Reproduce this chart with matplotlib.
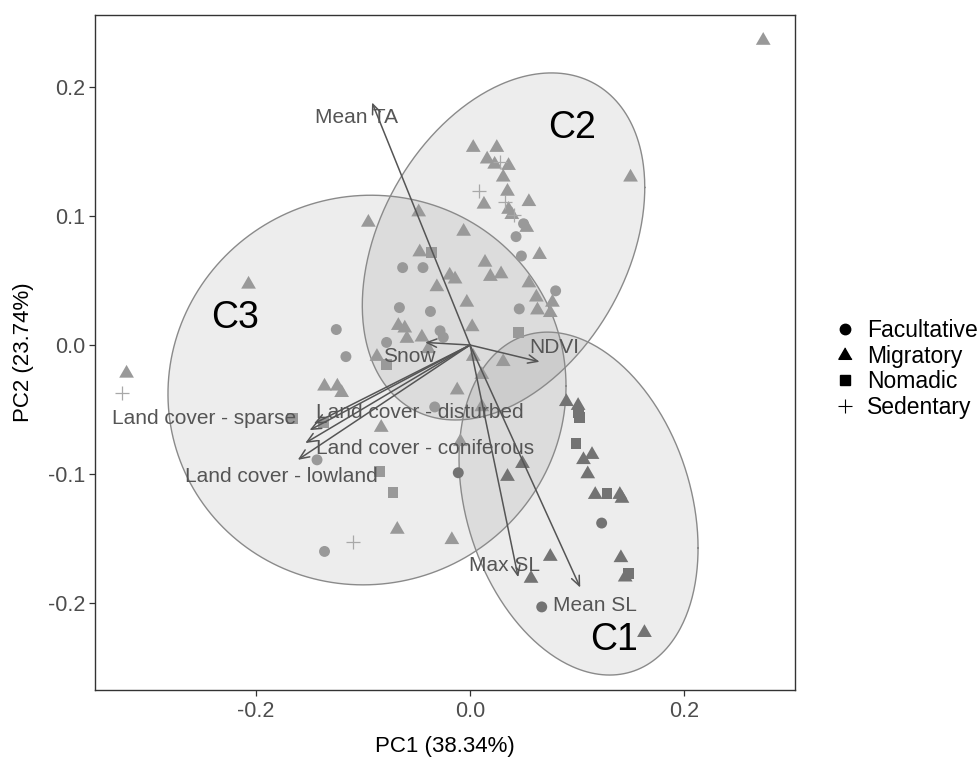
import numpy as np
import matplotlib
matplotlib.use('Agg')
import matplotlib.pyplot as plt
from matplotlib.lines import Line2D

plt.rcParams['font.family'] = ['Liberation Sans', 'DejaVu Sans']

# ---------------- data ----------------
types = ['Facultative', 'Migratory', 'Nomadic', 'Sedentary']

# Facultative (circles): x, y, cluster
fac_x = [-0.063, -0.044, -0.066, -0.037, -0.125, -0.028, -0.025, -0.078, -0.116,
         0.050, 0.043, 0.048, 0.080, 0.046, -0.033, -0.143, -0.136,
         -0.011, 0.123, 0.067]
fac_y = [0.060, 0.060, 0.029, 0.026, 0.012, 0.011, 0.006, 0.002, -0.009,
         0.094, 0.084, 0.069, 0.042, 0.028, -0.048, -0.089, -0.160,
         -0.099, -0.138, -0.203]
fac_c = [3, 3, 3, 3, 3, 3, 3, 3, 3,
         2, 2, 2, 2, 2, 3, 3, 3,
         1, 1, 1]

# Migratory (triangles)
mig_x = [0.274, 0.150, 0.003, 0.025, 0.016, 0.023, 0.036, 0.031, 0.035, 0.013,
         0.055, 0.036, 0.039, 0.053, -0.006, 0.065, 0.014, -0.019, -0.014, 0.019,
         0.029, 0.055, 0.062, -0.003, 0.077, 0.063, 0.075, 0.002,
         -0.048, -0.095, -0.207, -0.047, -0.031, -0.067, -0.061, -0.059, -0.045,
         -0.039, -0.087, 0.003, 0.031, 0.011, -0.012, 0.011, -0.321, -0.136,
         -0.124, -0.120, -0.083, -0.009, -0.068, -0.017,
         0.049, 0.035, 0.075, 0.057, 0.163, 0.090, 0.101, 0.114, 0.106, 0.110,
         0.117, 0.140, 0.142, 0.141, 0.145]
mig_y = [0.236, 0.130, 0.153, 0.153, 0.144, 0.140, 0.139, 0.130, 0.119, 0.109,
         0.111, 0.105, 0.101, 0.091, 0.088, 0.070, 0.064, 0.054, 0.051, 0.053,
         0.055, 0.048, 0.037, 0.033, 0.033, 0.027, 0.025, 0.014,
         0.103, 0.095, 0.047, 0.072, 0.045, 0.015, 0.013, 0.005, 0.006,
         -0.003, -0.009, -0.009, -0.013, -0.023, -0.035, -0.048, -0.022, -0.032,
         -0.032, -0.037, -0.064, -0.075, -0.143, -0.151,
         -0.092, -0.102, -0.164, -0.181, -0.223, -0.044, -0.047, -0.085, -0.089, -0.100,
         -0.116, -0.116, -0.119, -0.165, -0.180]
mig_c = [2] * 28 + [3] * 24 + [1] * 15

# Nomadic (squares)
nom_x = [-0.036, 0.045, -0.078, -0.166, -0.137, -0.085, -0.072, 0.101, 0.102, 0.099, 0.128, 0.148]
nom_y = [0.072, 0.010, -0.015, -0.057, -0.060, -0.098, -0.114, -0.052, -0.056, -0.076, -0.115, -0.177]
nom_c = [3, 2, 3, 3, 3, 3, 3, 1, 1, 1, 1, 1]

# Sedentary (plus)
sed_x = [-0.325, -0.109, 0.028, 0.008, 0.033, 0.041]
sed_y = [-0.037, -0.153, 0.142, 0.119, 0.111, 0.101]

# Loading arrows
var_names = ['Mean TA', 'NDVI', 'Snow', 'Land cover - sparse', 'Land cover - disturbed',
             'Land cover - coniferous', 'Land cover - lowland', 'Max SL', 'Mean SL']
var_x = [-0.0916, 0.065, -0.042, -0.150, -0.146, -0.154, -0.161, 0.045, 0.103]
var_y = [0.188, -0.013, 0.002, -0.066, -0.061, -0.076, -0.089, -0.180, -0.188]
lab_x = [-0.106, 0.079, -0.057, -0.249, -0.047, -0.042, -0.176, 0.032, 0.117]
lab_y = [0.176, -0.002, -0.009, -0.057, -0.052, -0.080, -0.102, -0.171, -0.202]

# Cluster ellipses: centre, half-extent in x and y, correlation
clusters = ['C1', 'C2', 'C3']
ell_cx = [0.1014, 0.0313, -0.0963]
ell_cy = [-0.1229, 0.0764, -0.0349]
ell_rx = [0.1117, 0.132, 0.186]
ell_ry = [0.1329, 0.1345, 0.151]
ell_rho = [-0.26, 0.34, 0.02]
clab_x = [0.135, 0.095, -0.220]
clab_y = [-0.229, 0.168, 0.021]

# ---------------- figure ----------------
fig = plt.figure(figsize=(9.8, 7.66), dpi=100)
ax = fig.add_axes([95 / 980, 76 / 766, 700 / 980, 675 / 766])
ax.set_xlim(-0.3505, 0.3037)
ax.set_ylim(-0.2674, 0.2558)

t = np.linspace(0, 2 * np.pi, 400)
for cx, cy, rx, ry, rho in zip(ell_cx, ell_cy, ell_rx, ell_ry, ell_rho):
    ex = cx + rx * np.cos(t)
    ey = cy + ry * (rho * np.cos(t) + np.sqrt(1 - rho ** 2) * np.sin(t))
    ax.fill(ex, ey, facecolor='black', alpha=0.07, edgecolor='none', zorder=1)
    ax.plot(ex, ey, color='#8a8a8a', lw=1.0, zorder=1.5)

tri = [(0, 0.577), (-0.5, -0.289), (0.5, -0.289)]
col = {1: '#737373', 2: '#999999', 3: '#999999'}

ax.scatter(fac_x, fac_y, s=62, marker='o', c=[col[c] for c in fac_c], linewidths=0, zorder=3)
ax.scatter(mig_x, mig_y, s=150, marker=tri, c=[col[c] for c in mig_c], linewidths=0, zorder=3)
ax.scatter(nom_x, nom_y, s=62, marker='s', c=[col[c] for c in nom_c], linewidths=0, zorder=3)
ax.scatter(sed_x, sed_y, s=110, marker='+', c='#a8a8a8', linewidths=0.9, zorder=3)

for vx, vy in zip(var_x, var_y):
    ax.annotate('', xy=(vx, vy), xytext=(0, 0),
                arrowprops=dict(arrowstyle='->,head_length=0.7,head_width=0.3',
                                color='#555555', lw=1.1, shrinkA=0, shrinkB=0),
                zorder=4)
for name, lx, ly in zip(var_names, lab_x, lab_y):
    ax.text(lx, ly, name, ha='center', va='center', fontsize=15, color='#555555', zorder=5)

for name, lx, ly in zip(clusters, clab_x, clab_y):
    ax.text(lx, ly, name, ha='center', va='center', fontsize=27, color='black', zorder=5)

ax.set_xticks([-0.2, 0.0, 0.2])
ax.set_yticks([-0.2, -0.1, 0.0, 0.1, 0.2])
ax.set_xticklabels(['-0.2', '0.0', '0.2'])
ax.set_yticklabels(['-0.2', '-0.1', '0.0', '0.1', '0.2'])
ax.tick_params(axis='both', labelsize=15.5, labelcolor='#4d4d4d', color='#333333',
               length=4, width=0.9, pad=3)
ax.tick_params(axis='x', pad=4)
for sp in ax.spines.values():
    sp.set_color('#333333')
    sp.set_linewidth(1.0)
ax.set_xlabel('PC1 (38.34%)', fontsize=16, color='black', labelpad=10)
ax.set_ylabel('PC2 (23.74%)', fontsize=16, color='black', labelpad=10)

handles = [
    Line2D([], [], ls='none', marker='o', color='black', markersize=7.5),
    Line2D([], [], ls='none', marker=tri, color='black', markersize=11),
    Line2D([], [], ls='none', marker='s', color='black', markersize=7.2),
    Line2D([], [], ls='none', marker='+', color='black', markersize=10, markeredgewidth=0.8),
]
ax.legend(handles, types, loc='center left', bbox_to_anchor=(834 / 980, 1 - 369 / 766),
          bbox_transform=fig.transFigure, frameon=False, fontsize=16.5,
          handlelength=1.0, handletextpad=0.45, labelspacing=0.12, borderpad=0,
          borderaxespad=0)

fig.savefig('out.png', dpi=100)
